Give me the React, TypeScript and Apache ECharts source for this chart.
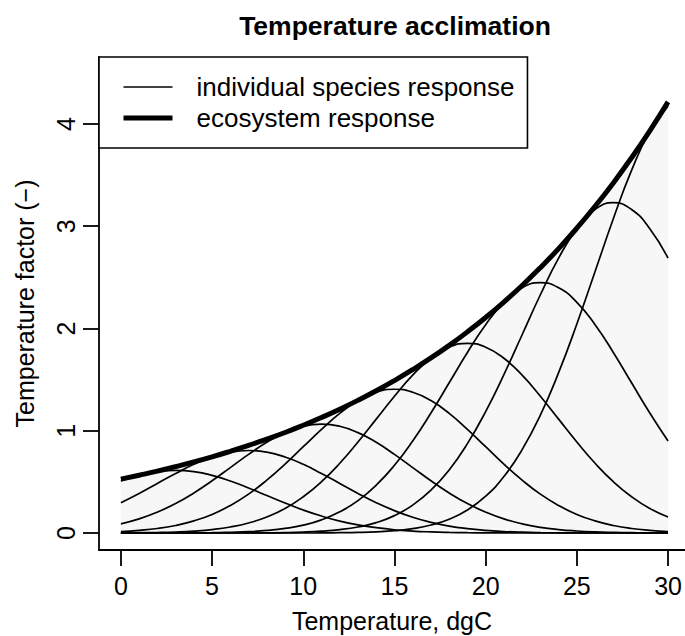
import React, { useEffect, useRef } from "react";
import * as echarts from "echarts";

const temps = [0,1,2,3,4,5,6,7,8,9,10,11,12,13,14,15,16,17,18,19,20,21,22,23,24,25,26,27,28,29,30];

const ecosystem = [0.527,0.565,0.605,0.649,0.695,0.745,0.799,0.856,0.918,0.983,1.054,1.130,1.211,1.298,1.391,1.491,1.598,1.712,1.835,1.967,2.108,2.259,2.421,2.595,2.781,2.981,3.195,3.424,3.670,3.933,4.216];

const species03 = [0.509,0.564,0.600,0.612,0.600,0.564,0.509,0.441,0.367,0.294,0.225,0.166,0.117,0.079,0.052,0.032,0.019,0.011,0.006,0.003,0.002,0.001,0,0,0,0,0,0,0,0,0];
const species07 = [0.297,0.387,0.485,0.582,0.672,0.744,0.791,0.807,0.791,0.744,0.672,0.582,0.485,0.387,0.297,0.219,0.154,0.105,0.068,0.043,0.026,0.015,0.008,0.004,0.002,0.001,0,0,0,0,0];
const species11 = [0.090,0.138,0.204,0.288,0.392,0.511,0.640,0.769,0.887,0.982,1.044,1.065,1.044,0.982,0.887,0.769,0.640,0.511,0.392,0.288,0.204,0.138,0.090,0.056,0.034,0.020,0.011,0.006,0.003,0.001,0.001];
const species15 = [0.014,0.026,0.044,0.074,0.119,0.182,0.269,0.380,0.517,0.674,0.844,1.014,1.170,1.295,1.377,1.406,1.377,1.295,1.170,1.014,0.844,0.674,0.517,0.380,0.269,0.182,0.119,0.074,0.044,0.026,0.014];
const species19 = [0.001,0.003,0.005,0.010,0.019,0.034,0.059,0.098,0.157,0.240,0.355,0.502,0.682,0.890,1.114,1.338,1.544,1.709,1.817,1.855,1.817,1.709,1.544,1.338,1.114,0.890,0.682,0.502,0.355,0.240,0.157];
const species23 = [0,0,0,0.001,0.002,0.003,0.007,0.013,0.025,0.045,0.077,0.129,0.207,0.317,0.468,0.662,0.900,1.174,1.469,1.766,2.037,2.256,2.398,2.448,2.398,2.256,2.037,1.766,1.469,1.174,0.900];
const species27 = [0,0,0,0,0,0,0,0.001,0.002,0.004,0.009,0.018,0.033,0.059,0.102,0.170,0.273,0.419,0.617,0.874,1.188,1.549,1.939,2.330,2.688,2.976,3.164,3.230,3.164,2.976,2.688];
const species31 = [0,0,0,0,0,0,0,0,0,0,0,0.001,0.003,0.006,0.012,0.023,0.043,0.078,0.135,0.225,0.360,0.552,0.815,1.153,1.568,2.044,2.558,3.074,3.546,3.927,4.175];

const speciesCurves = [species03, species07, species11, species15, species19, species23, species27, species31];

const xTicks = [0, 5, 10, 15, 20, 25, 30];
const yTicks = [0, 1, 2, 3, 4];

const INDIV = "individual species response";
const ECO = "ecosystem response";
const FONT = "'Liberation Sans', Arial, Helvetica, sans-serif";

export default function App() {
  const ref = useRef<HTMLDivElement>(null);
  useEffect(() => {
    if (!ref.current) return;
    const chart = echarts.init(ref.current, null, { renderer: "svg" });
    const pairs = (arr: number[]) => temps.map((t, i) => [t, arr[i]]);
    const series: any[] = [
      {
        name: "shade",
        type: "line",
        data: pairs(ecosystem),
        smooth: true,
        symbol: "none",
        lineStyle: { width: 0, opacity: 0 },
        areaStyle: { color: "#f7f7f7", opacity: 1 },
        silent: true,
      },
      ...speciesCurves.map((arr) => ({
        name: INDIV,
        type: "line",
        data: pairs(arr),
        smooth: true,
        symbol: "none",
        lineStyle: { color: "#000", width: 1.7 },
        itemStyle: { color: "#000" },
      })),
      {
        name: ECO,
        type: "line",
        data: pairs(ecosystem),
        smooth: true,
        symbol: "none",
        lineStyle: { color: "#000", width: 5 },
        itemStyle: { color: "#000" },
      },
    ];
    chart.setOption({
      animation: false,
      backgroundColor: "#fff",
      textStyle: { fontFamily: FONT },
      title: {
        text: "Temperature acclimation",
        left: 395,
        textAlign: "center",
        top: 12,
        padding: 0,
        textStyle: { fontFamily: FONT, fontWeight: "bold", fontSize: 26.5, color: "#000" },
      },
      legend: {
        data: [
          { name: INDIV, itemStyle: { opacity: 0 }, lineStyle: { width: 1.7, color: "#000" } },
          { name: ECO, itemStyle: { opacity: 0 }, lineStyle: { width: 5, color: "#000" } },
        ],
        orient: "vertical",
        left: 99,
        top: 57,
        padding: [17, 13, 17, 22],
        itemWidth: 49,
        itemHeight: 14,
        itemGap: 5,
        backgroundColor: "#fff",
        borderColor: "#000",
        borderWidth: 1.6,
        borderRadius: 0,
        selectedMode: false,
        itemStyle: { opacity: 0 },
        textStyle: { fontFamily: FONT, fontSize: 26, color: "#000", padding: [0, 0, 0, 19] },
      },
      grid: { left: 99, top: 57, right: 0, height: 493, containLabel: false, outerBoundsMode: "none" },
      xAxis: {
        type: "value",
        min: -1.2,
        max: 30.93,
        name: "Temperature, dgC",
        nameLocation: "middle",
        nameGap: 58,
        nameTextStyle: { fontFamily: FONT, fontSize: 25, color: "#000" },
        axisLine: { show: true, onZero: false, lineStyle: { color: "#000", width: 1.8 } },
        axisTick: { show: true, length: 16, customValues: xTicks, lineStyle: { color: "#000", width: 1.8 } },
        axisLabel: { customValues: xTicks, margin: 23, fontFamily: FONT, fontSize: 25, color: "#000" },
        splitLine: { show: false },
      },
      yAxis: {
        type: "value",
        min: -0.166,
        max: 4.655,
        name: "Temperature factor (\u2212)",
        nameLocation: "middle",
        nameGap: 62,
        nameRotate: 90,
        nameTextStyle: { fontFamily: FONT, fontSize: 25, color: "#000" },
        axisLine: { show: true, onZero: false, lineStyle: { color: "#000", width: 1.8 } },
        axisTick: { show: true, length: 16, customValues: yTicks, lineStyle: { color: "#000", width: 1.8 } },
        axisLabel: { customValues: yTicks, rotate: 90, margin: 21, fontFamily: FONT, fontSize: 25, color: "#000" },
        splitLine: { show: false },
      },
      series,
    });
    return () => chart.dispose();
  }, []);
  return (
    <div
      ref={ref}
      style={{ position: "fixed", left: 0, top: 0, width: 685, height: 636, background: "#fff" }}
    />
  );
}
